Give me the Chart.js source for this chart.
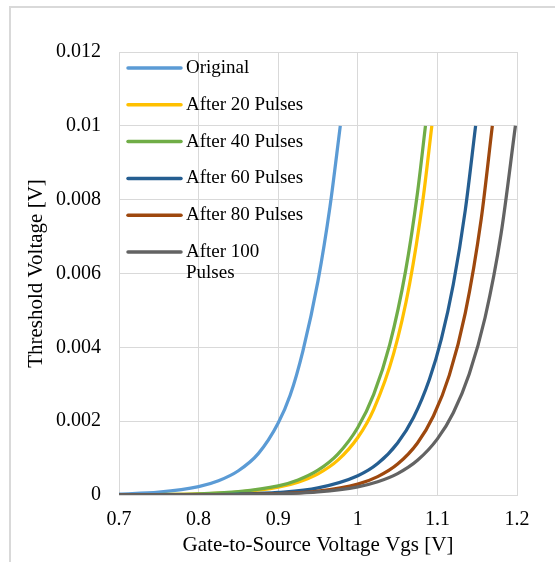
<!DOCTYPE html>
<html>
<head>
<meta charset="utf-8">
<title>Threshold Voltage vs Gate-to-Source Voltage</title>
<script src="https://cdn.jsdelivr.net/npm/chart.js@4.4.1/dist/chart.umd.min.js"></script>
<style>
    html, body { margin: 0; padding: 0; background: #fff; }
</style>
</head>
<body>
<canvas id="vthChart" width="555" height="562"></canvas>
<script>
// Series names (legend order)
const seriesNames = ['Original', 'After 20 Pulses', 'After 40 Pulses', 'After 60 Pulses', 'After 80 Pulses', 'After 100 Pulses'];

// Gate-to-source voltage [V] and threshold voltage [V]
const vgsOriginal = [0.70, 0.75, 0.80, 0.825, 0.85, 0.875, 0.90, 0.915, 0.931, 0.950, 0.965, 0.978];
const vthOriginal = [0.000027, 0.000078, 0.000227, 0.000386, 0.000657, 0.00112, 0.00195, 0.0027, 0.0039, 0.0058, 0.0078, 0.01];

const vgs20 = [0.70, 0.75, 0.80, 0.85, 0.90, 0.925, 0.95, 0.975, 1.0, 1.02, 1.045, 1.065, 1.082, 1.093];
const vth20 = [0.0000039, 0.0000105, 0.0000285, 0.0000775, 0.000211, 0.000347, 0.000573, 0.000944, 0.001557, 0.002322, 0.00383, 0.00571, 0.008025, 0.01];

const vgs40 = [0.70, 0.75, 0.80, 0.85, 0.90, 0.925, 0.95, 0.975, 1.0, 1.02, 1.04, 1.06, 1.075, 1.085];
const vth40 = [0.0000045, 0.0000123, 0.0000335, 0.000091, 0.000247, 0.000408, 0.000672, 0.001108, 0.001827, 0.002725, 0.004066, 0.006065, 0.008187, 0.01];

const vgs60 = [0.70, 0.75, 0.80, 0.85, 0.90, 0.95, 1.0, 1.025, 1.05, 1.07, 1.09, 1.105, 1.12, 1.135, 1.148];
const vth60 = [0.0000013, 0.0000035, 0.0000095, 0.0000258, 0.00007, 0.000191, 0.00052, 0.00085, 0.00141, 0.0021, 0.003135, 0.00423, 0.00571, 0.00771, 0.01];

const vgs80 = [0.70, 0.75, 0.80, 0.85, 0.90, 0.95, 1.0, 1.025, 1.05, 1.075, 1.095, 1.115, 1.135, 1.155, 1.169];
const vth80 = [0.0000006, 0.0000016, 0.0000046, 0.000013, 0.0000368, 0.000104, 0.000296, 0.000498, 0.000838, 0.00141, 0.00214, 0.003247, 0.004925, 0.00747, 0.01];

const vgs100 = [0.70, 0.75, 0.80, 0.85, 0.90, 0.95, 1.0, 1.025, 1.05, 1.075, 1.10, 1.12, 1.14, 1.16, 1.18, 1.198];
const vth100 = [0.0000007, 0.0000018, 0.0000047, 0.0000124, 0.0000324, 0.0000849, 0.000222, 0.000359, 0.00058, 0.00094, 0.00152, 0.00223, 0.00328, 0.004815, 0.007075, 0.01];

// Axis tick labels
const xTickLabels = ['0.7', '0.8', '0.9', '1', '1.1', '1.2'];
const yTickLabels = ['0', '0.002', '0.004', '0.006', '0.008', '0.01', '0.012'];

const seriesColors = ['#5B9BD5', '#FFC000', '#70AD47', '#255E91', '#9E480E', '#636363'];
const allVgs = [vgsOriginal, vgs20, vgs40, vgs60, vgs80, vgs100];
const allVth = [vthOriginal, vth20, vth40, vth60, vth80, vth100];

const serif = '"Liberation Serif", "Times New Roman", serif';
const gridColor = '#D9D9D9';

// White background plus the light frame around the chart
const framePlugin = {
    id: 'frame',
    beforeDraw(chart) {
        const ctx = chart.ctx;
        ctx.save();
        ctx.fillStyle = '#fff';
        ctx.fillRect(0, 0, chart.width, chart.height);
        ctx.strokeStyle = gridColor;
        ctx.lineWidth = 2;
        ctx.beginPath();
        ctx.moveTo(10, chart.height);
        ctx.lineTo(10, 7);
        ctx.lineTo(chart.width, 7);
        ctx.stroke();
        ctx.restore();
    }
};

// Legend drawn inside the plot, top-left, one entry per row
const insideLegend = {
    id: 'insideLegend',
    afterDatasetsDraw(chart) {
        const ctx = chart.ctx;
        const left = chart.chartArea.left + 9;
        let y = chart.chartArea.top + 16;
        ctx.save();
        ctx.font = '19px ' + serif;
        ctx.textBaseline = 'middle';
        ctx.textAlign = 'left';
        chart.data.datasets.forEach((ds) => {
            ctx.strokeStyle = ds.borderColor;
            ctx.lineWidth = 3.5;
            ctx.lineCap = 'round';
            ctx.beginPath();
            ctx.moveTo(left, y);
            ctx.lineTo(left + 53, y);
            ctx.stroke();

            // wrap long labels like Excel does
            const words = ds.label.split(' ');
            const lines = [];
            let line = '';
            words.forEach((w) => {
                const test = line ? line + ' ' + w : w;
                if (line && ctx.measureText(test).width > 118) {
                    lines.push(line);
                    line = w;
                } else {
                    line = test;
                }
            });
            lines.push(line);
            ctx.fillStyle = '#000';
            lines.forEach((l, i) => ctx.fillText(l, left + 58, y + i * 21.5));
            y += 36.8;
        });
        ctx.restore();
    }
};

const ctx = document.getElementById('vthChart').getContext('2d');
const vthChart = new Chart(ctx, {
    type: 'scatter',
    data: {
        datasets: seriesNames.map((name, i) => ({
            label: name,
            data: allVgs[i].map((v, j) => ({ x: v, y: allVth[i][j] })),
            borderColor: seriesColors[i],
            backgroundColor: seriesColors[i],
            borderWidth: 3.25,
            showLine: true,
            pointRadius: 0,
            cubicInterpolationMode: 'monotone',
            order: seriesNames.length - i, // later series on top
        })),
    },
    options: {
        responsive: false,
        animation: false,
        layout: { padding: { left: 10, top: 52, right: 38, bottom: 0 } },
        plugins: {
            legend: { display: false },
            tooltip: { enabled: false },
        },
        scales: {
            x: {
                type: 'linear',
                min: 0.7,
                max: 1.2,
                ticks: {
                    stepSize: 0.1,
                    padding: 13,
                    color: '#000',
                    font: { family: serif, size: 20 },
                    callback: (v, i) => xTickLabels[i],
                },
                grid: { color: gridColor, lineWidth: 1, drawTicks: false },
                border: { color: gridColor },
                title: {
                    display: true,
                    text: 'Gate-to-Source Voltage Vgs [V]',
                    color: '#000',
                    font: { family: serif, size: 21 },
                    padding: { top: 0, bottom: 4 },
                },
                afterFit: (scale) => { scale.height = 67; },
            },
            y: {
                min: 0,
                max: 0.012,
                ticks: {
                    stepSize: 0.002,
                    padding: 18,
                    color: '#000',
                    font: { family: serif, size: 20 },
                    callback: (v, i) => yTickLabels[i],
                },
                grid: { color: gridColor, lineWidth: 1, drawTicks: false },
                border: { color: gridColor },
                title: {
                    display: true,
                    text: 'Threshold Voltage [V]',
                    color: '#000',
                    font: { family: serif, size: 21 },
                    padding: { top: 14, bottom: 0 },
                },
                afterFit: (scale) => { scale.width = 109; },
            },
        },
    },
    plugins: [framePlugin, insideLegend],
});
</script>
</body>
</html>
